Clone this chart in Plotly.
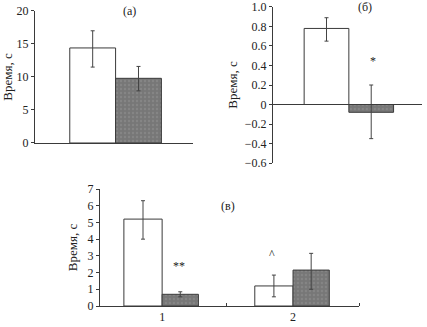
import plotly.graph_objects as go

# Data
a_vals = [14.4, 9.8]
a_err_plus = [2.6, 1.8]
a_err_minus = [2.9, 1.9]

b_vals = [0.78, -0.08]
b_err_plus = [0.11, 0.28]
b_err_minus = [0.13, 0.27]

c_groups = ["1", "2"]
c_white = [5.2, 1.2]
c_white_plus = [1.1, 0.65]
c_white_minus = [1.2, 0.65]
c_gray = [0.7, 2.15]
c_gray_plus = [0.15, 1.0]
c_gray_minus = [0.15, 1.15]

FONT = "Liberation Serif, Times New Roman, serif"
WHITE = "white"
GRAY = "#777777"
EDGE = "#3a3a3a"
ERRC = "#444444"

fig = go.Figure()

def bars(x, y, plus, minus, fill, xa, ya, offset, width, pattern=False):
    marker = dict(color=fill, line=dict(color=EDGE, width=1))
    if pattern:
        marker["pattern"] = dict(shape=".", fgcolor="#858585", bgcolor=fill,
                                 size=4, solidity=0.3, fillmode="replace")
    fig.add_trace(go.Bar(
        x=x, y=y, xaxis=xa, yaxis=ya,
        offset=offset, width=width,
        marker=marker,
        error_y=dict(type="data", symmetric=False, array=plus, arrayminus=minus,
                     color=ERRC, thickness=1, width=2),
        showlegend=False, hoverinfo="skip",
    ))

# Panel (a)
bars([0.51], [a_vals[0]], [a_err_plus[0]], [a_err_minus[0]], WHITE, "x", "y", -0.29, 0.29)
bars([0.51], [a_vals[1]], [a_err_plus[1]], [a_err_minus[1]], GRAY, "x", "y", 0.0, 0.29, True)
# Panel (b)
bars([0.51], [b_vals[0]], [b_err_plus[0]], [b_err_minus[0]], WHITE, "x2", "y2", -0.30, 0.30)
bars([0.51], [b_vals[1]], [b_err_plus[1]], [b_err_minus[1]], GRAY, "x2", "y2", 0.0, 0.30, True)
# Panel (c)
cx = [0.48, 1.49]
bars(cx, c_white, c_white_plus, c_white_minus, WHITE, "x3", "y3", -0.295, 0.295)
bars(cx, c_gray, c_gray_plus, c_gray_minus, GRAY, "x3", "y3", 0.0, 0.28, True)

tickfont = dict(family=FONT, size=12, color="#222")
titlefont = dict(family=FONT, size=13, color="#222")

common_y = dict(showline=True, linecolor=EDGE, linewidth=1, ticks="outside",
                ticklen=3, tickcolor=EDGE, showgrid=False, zeroline=False,
                tickfont=tickfont, title_font=titlefont, automargin=False)
common_x = dict(showline=True, linecolor=EDGE, showgrid=False, zeroline=False,
                automargin=False)

fig.update_layout(
    width=427, height=327,
    margin=dict(l=0, r=0, t=0, b=0, autoexpand=False),
    paper_bgcolor="white", plot_bgcolor="white",
    barmode="overlay",
    xaxis=dict(domain=[0.082, 0.452], range=[0, 1], anchor="y",
               tickvals=[1], ticks="inside", ticklen=3, tickcolor=EDGE,
               showticklabels=False, **common_x),
    yaxis=dict(domain=[0.5627, 0.9664], range=[0, 20], dtick=5, anchor="x",
               title=dict(text="Время, с", standoff=6), **common_y),
    xaxis2=dict(domain=[0.639, 0.988], range=[0, 1], anchor="free", position=0.682,
                tickvals=[1], ticks="inside", ticklen=3, tickcolor=EDGE,
                showticklabels=False, **common_x),
    yaxis2=dict(domain=[0.5015, 0.9786], range=[-0.6, 1.0], anchor="x2",
                tickvals=[-0.6, -0.4, -0.2, 0, 0.2, 0.4, 0.6, 0.8, 1.0],
                ticktext=["−0.6", "−0.4", "−0.2", "0", "0.2", "0.4", "0.6", "0.8", "1.0"],
                title=dict(text="Время, с", standoff=4), **common_y),
    xaxis3=dict(domain=[0.234, 0.841], range=[0, 2], anchor="y3",
                tickvals=cx, ticktext=c_groups, ticks="", tickfont=tickfont,
                minor=dict(tickmode="array", tickvals=[0.98, 2], ticks="inside",
                           ticklen=3, tickcolor=EDGE), **common_x),
    yaxis3=dict(domain=[0.0642, 0.422], range=[0, 7], dtick=1, anchor="x3",
                title=dict(text="Время, с", standoff=6), **common_y),
)

ann = [
    dict(text="(а)", x=0.6, y=20, xref="x", yref="y", yanchor="middle"),
    dict(text="(б)", x=0.62, y=1.0, xref="x2", yref="y2", yanchor="middle"),
    dict(text="*", x=0.67, y=0.45, xref="x2", yref="y2", yanchor="middle"),
    dict(text="(в)", x=0.99, y=6.0, xref="x3", yref="y3", yanchor="middle"),
    dict(text="**", x=0.61, y=2.4, xref="x3", yref="y3", yanchor="middle"),
    dict(text="^", x=1.33, y=3.1, xref="x3", yref="y3", yanchor="middle"),
]
for a in ann:
    fig.add_annotation(showarrow=False, font=dict(family=FONT, size=12, color="#222"), **a)

fig.write_html("out.html")
